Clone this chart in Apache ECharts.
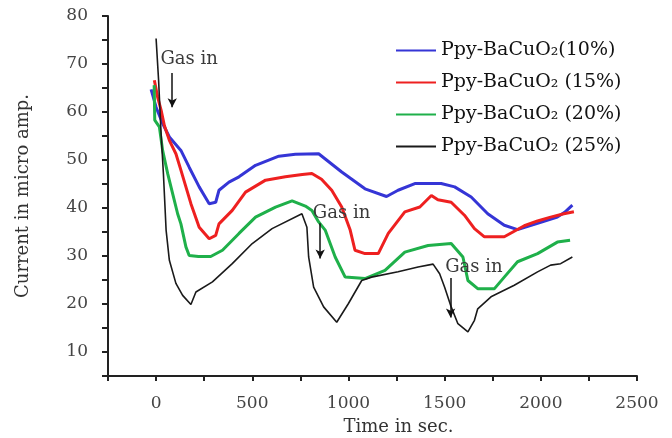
<!DOCTYPE html>
<html>
<head>
<meta charset="utf-8">
<script src="https://cdn.jsdelivr.net/npm/echarts@6/dist/echarts.min.js"></script>
<style>
  html, body { margin: 0; padding: 0; background: #fff; }
  #chart { width: 672px; height: 438px; }
</style>
</head>
<body>
<div id="chart"></div>
<script>
// Sensor response of Ppy-BaCuO2 composites: current vs time, gas let in three times.
const seriesNames = ['Ppy-BaCuO₂(10%)', 'Ppy-BaCuO₂ (15%)', 'Ppy-BaCuO₂ (20%)', 'Ppy-BaCuO₂ (25%)'];

const time10 = [-26, 0, 34, 69, 129, 172, 224, 276, 310, 327, 379, 431, 517, 638, 724, 845, 965, 1086, 1198, 1258, 1345, 1482, 1552, 1638, 1724, 1810, 1879, 1983, 2086, 2124, 2164];
const current10 = [64.7, 61, 57.6, 54.8, 52, 48.5, 44.4, 40.9, 41.2, 43.7, 45.4, 46.5, 48.9, 50.8, 51.2, 51.3, 47.5, 44.0, 42.4, 43.7, 45.1, 45.1, 44.4, 42.3, 38.8, 36.4, 35.5, 36.8, 38.1, 39.1, 40.6];

const time15 = [-9, 8, 26, 43, 69, 103, 129, 155, 181, 224, 276, 310, 327, 396, 465, 569, 672, 760, 810, 860, 913, 965, 1009, 1034, 1086, 1155, 1207, 1293, 1371, 1431, 1465, 1534, 1603, 1655, 1707, 1810, 1914, 1983, 2051, 2120, 2172];
const current15 = [66.6, 63.1, 60.4, 57.2, 54.1, 51.3, 47.9, 44.4, 40.9, 36, 33.6, 34.3, 36.7, 39.5, 43.3, 45.8, 46.5, 47.0, 47.2, 46.0, 43.7, 40.2, 35.4, 31.2, 30.5, 30.5, 34.7, 39.2, 40.2, 42.6, 41.7, 41.2, 38.5, 35.7, 34, 34, 36.3, 37.3, 38.1, 38.8, 39.2];

const time20 = [-10, -7, 17, 34, 60, 86, 112, 129, 155, 172, 220, 284, 345, 431, 517, 621, 707, 776, 810, 845, 879, 931, 983, 1086, 1190, 1293, 1414, 1534, 1595, 1621, 1672, 1759, 1810, 1879, 1983, 2086, 2152];
const current20 = [65.6, 58.3, 56.9, 52, 47.2, 43, 38.8, 36.7, 31.9, 30.1, 29.9, 29.9, 31.2, 34.7, 38.1, 40.2, 41.5, 40.4, 39.5, 37.1, 35.4, 29.8, 25.6, 25.3, 27, 30.8, 32.2, 32.6, 29.8, 24.9, 23.2, 23.2, 25.6, 28.8, 30.5, 32.9, 33.3];

const time25 = [0, 13, 26, 38, 48, 52, 69, 103, 138, 181, 207, 293, 396, 500, 603, 758, 767, 784, 793, 819, 871, 939, 1000, 1069, 1120, 1258, 1362, 1440, 1474, 1500, 1534, 1569, 1621, 1655, 1672, 1741, 1862, 1983, 2051, 2103, 2164];
const current25 = [75.3, 66.6, 55.5, 47.2, 38.8, 35.4, 29.1, 24.3, 21.8, 19.9, 22.5, 24.6, 28.4, 32.6, 35.7, 38.8, 39.2, 36, 29.8, 23.5, 19.4, 16.2, 20.1, 24.9, 25.6, 26.7, 27.7, 28.3, 26.3, 23.5, 19.4, 15.9, 14.2, 16.6, 19, 21.5, 23.9, 26.7, 28.1, 28.4, 29.8];

// "Gas in" notes and their arrows (data coordinates)
const gasLabelTime = [172, 964, 1652];
const gasLabelCurrent = [71.0, 38.8, 27.7];
const arrowTime = [84, 853, 1531];
const arrowFrom = [68.1, 36.8, 25.4];
const arrowTo = [61, 29.5, 17.2];

// axis ranges
const xMin = -250, xMax = 2500, xStep = 250;
const yMin = 5, yMax = 80, yStep = 5;

const colors = ['#3535d6', '#ee2020', '#1fb04a', '#1a1a1a'];
const serif = 'DejaVu Serif';
const axisColor = '#222';

function pairs(xs, ys) { return xs.map((x, i) => [x, ys[i]]); }

const chart = echarts.init(document.getElementById('chart'));

const gasLabels = gasLabelTime.map((t, i) => ({ coord: [t, gasLabelCurrent[i]] }));
const gasArrows = arrowTime.map((t, i) => [{ coord: [t, arrowFrom[i]] }, { coord: [t, arrowTo[i]] }]);

const dataSets = [pairs(time10, current10), pairs(time15, current15), pairs(time20, current20), pairs(time25, current25)];

const series = dataSets.map((d, i) => ({
  name: seriesNames[i],
  type: 'line',
  data: d,
  symbol: 'none',
  lineStyle: { color: colors[i], width: i === 3 ? 1.6 : 3 },
  itemStyle: { color: colors[i] },
  z: i === 3 ? 3 : 2
}));

series[3].markPoint = {
  silent: true,
  symbol: 'circle',
  symbolSize: 0,
  label: {
    show: true, position: 'inside', formatter: 'Gas in',
    fontFamily: serif, fontSize: 18, color: '#3a3a3a'
  },
  data: gasLabels
};
series[3].markLine = {
  silent: true,
  symbol: ['none', 'arrow'],
  symbolSize: [7, 9],
  label: { show: false },
  lineStyle: { color: '#111', width: 1.5, type: 'solid' },
  data: gasArrows
};

chart.setOption({
  animation: false,
  backgroundColor: '#fff',
  grid: { left: 108, right: 35, top: 16, bottom: 62, outerBoundsMode: 'none' },
  legend: {
    orient: 'vertical',
    left: 391,
    top: 36,
    itemWidth: 40,
    itemHeight: 12,
    itemGap: 13,
    icon: 'path://M0,0 L40,0 L40,2 L0,2 Z',
    textStyle: { fontFamily: serif, fontSize: 19, color: '#111' },
    data: seriesNames
  },
  xAxis: {
    type: 'value',
    min: xMin,
    max: xMax,
    interval: xStep,
    name: 'Time in sec.',
    nameLocation: 'middle',
    nameGap: 42,
    nameTextStyle: { fontFamily: serif, fontSize: 18, color: '#333', padding: [0, 0, 0, 52] },
    axisLine: { show: true, onZero: false, lineStyle: { color: axisColor, width: 2 } },
    axisTick: { show: true, length: 5, lineStyle: { color: axisColor, width: 2 } },
    axisLabel: {
      margin: 19, fontFamily: serif, fontSize: 17, color: '#444',
      formatter: v => (v % 500 === 0 ? String(v) : '')
    },
    splitLine: { show: false }
  },
  yAxis: {
    type: 'value',
    zlevel: 1,
    min: yMin,
    max: yMax,
    interval: yStep,
    name: 'Current in micro amp.',
    nameLocation: 'middle',
    nameGap: 76,
    nameRotate: 90,
    nameTextStyle: { fontFamily: serif, fontSize: 18, color: '#333' },
    axisLine: { show: true, onZero: false, lineStyle: { color: axisColor, width: 2 } },
    axisTick: { show: true, length: 6, lineStyle: { color: axisColor, width: 2 } },
    axisLabel: {
      margin: 20, fontFamily: serif, fontSize: 17, color: '#444',
      formatter: v => (v % 10 === 0 ? String(v) : '')
    },
    splitLine: { show: false }
  },
  series: series
});

// Vertical axis line and its outward ticks on their own top layer,
// placed through the chart's own scales
function drawValueAxisFrame() {
  const axisX = chart.convertToPixel({ xAxisIndex: 0 }, xMin);
  const axisTop = chart.convertToPixel({ yAxisIndex: 0 }, yMax);
  const axisBottom = chart.convertToPixel({ yAxisIndex: 0 }, yMin);
  const stroke = { stroke: axisColor, lineWidth: 2 };
  const shapes = [{
    type: 'line', silent: true, zlevel: 2, z: 100,
    shape: { x1: axisX, y1: axisTop, x2: axisX, y2: axisBottom + 1 },
    style: stroke
  }];
  for (let v = yMin; v <= yMax; v += yStep) {
    const py = chart.convertToPixel({ yAxisIndex: 0 }, v);
    shapes.push({
      type: 'line', silent: true, zlevel: 2, z: 100,
      shape: { x1: axisX - 6, y1: py, x2: axisX, y2: py },
      style: stroke
    });
  }
  chart.setOption({ graphic: { elements: shapes } });
}
drawValueAxisFrame();
</script>
</body>
</html>
